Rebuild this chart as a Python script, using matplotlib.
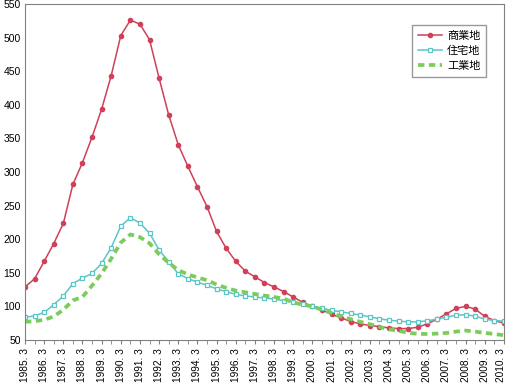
import numpy as np
import matplotlib.pyplot as plt
import matplotlib.transforms as mtransforms

plt.rcParams['font.family'] = ['Noto Sans CJK JP', 'DejaVu Sans']

# 半年ごとの指数 (1985.3 ～ 2010.3)
commercial = [129, 141, 167, 193.5, 223.5, 281.5, 314, 352, 393.5, 443.5,
              503, 526, 520, 497, 439.5, 385, 340.5, 308.5, 278, 248.5,
              211.5, 186.5, 167, 152.5, 144, 135.5, 129, 122, 114, 106,
              100, 95, 88, 83, 77.5, 74, 71.5, 70, 68, 67,
              67, 69, 74, 81, 89, 97, 100, 96, 85, 79, 75]
residential = [83.5, 86, 91, 102.5, 115.5, 134, 142, 149, 164, 187.5,
               219.5, 232, 224, 209, 184, 166.5, 148.5, 141.5, 136, 131.5,
               126, 122, 118, 115.5, 114, 112.5, 111, 108.5, 106.5, 103.5,
               100, 97.5, 94, 92, 89.5, 87, 84.5, 81.5, 79.5, 78,
               77, 77, 78.5, 81, 84, 87, 87.5, 85.5, 81, 79, 78]
industrial = [77, 78, 80, 85, 95, 109, 114, 131, 149, 171,
              195, 207, 203, 194, 177.5, 165, 154, 147.5, 143, 139,
              132.5, 127.5, 123.5, 121, 118.5, 116, 114, 111.5, 106, 102.5,
              100, 95, 90, 85, 81, 77, 73.5, 69.5, 66, 63.5,
              61, 59, 59, 59.5, 60.5, 62.5, 64, 62.5, 60.5, 59, 57]
years = list(range(1985, 2011))
tick_labels = ['%d. 3' % y for y in years]

x = np.arange(len(commercial))

fig = plt.figure(figsize=(5.07, 3.84), dpi=100)
ax = fig.add_axes([0.0493, 0.1146, 0.9447, 0.875])

ax.plot(x, commercial, color='#d04058', lw=1.1, marker='o', ms=3,
        mec='#d04058', mfc='#d04058', label='商業地')
ax.plot(x, residential, color='#5cc6c6', lw=1.1, marker='s', ms=3.5,
        mec='#5cc6c6', mfc='white', mew=0.9, label='住宅地')
ax.plot(x, industrial, color='#7ccc5c', lw=2.7, ls=(0, (1.7, 1.2)),
        label='工業地')

ax.set_xlim(0, len(x) - 1)
ax.set_ylim(50, 550)
ax.set_yticks(np.arange(50, 551, 50))
ax.set_xticks(x, minor=True)
ax.set_xticks(x[::2])
ax.set_xticklabels(tick_labels, rotation=90, fontsize=7.3, va='top',
                   family='Liberation Sans')
ax.tick_params(axis='x', which='both', length=3, color='#808080', pad=3)
ax.tick_params(axis='y', length=0, labelsize=7.5, pad=3)
for lab in ax.get_yticklabels():
    lab.set_family('Liberation Sans')
for s in ax.spines.values():
    s.set_color('#808080')

# 右端のラベルが切れないよう少し左へ
last = ax.get_xticklabels()[-1]
last.set_transform(last.get_transform() +
                   mtransforms.ScaledTranslation(-3 / 100, 0, fig.dpi_scale_trans))

leg = ax.legend(loc='upper right', bbox_to_anchor=(0.975, 0.955), fontsize=8,
                frameon=True, fancybox=False, edgecolor='#808080',
                handlelength=2.2, handletextpad=0.4, borderpad=0.55,
                labelspacing=0.45)
leg.get_frame().set_linewidth(1)

fig.savefig('out.png', dpi=100)
